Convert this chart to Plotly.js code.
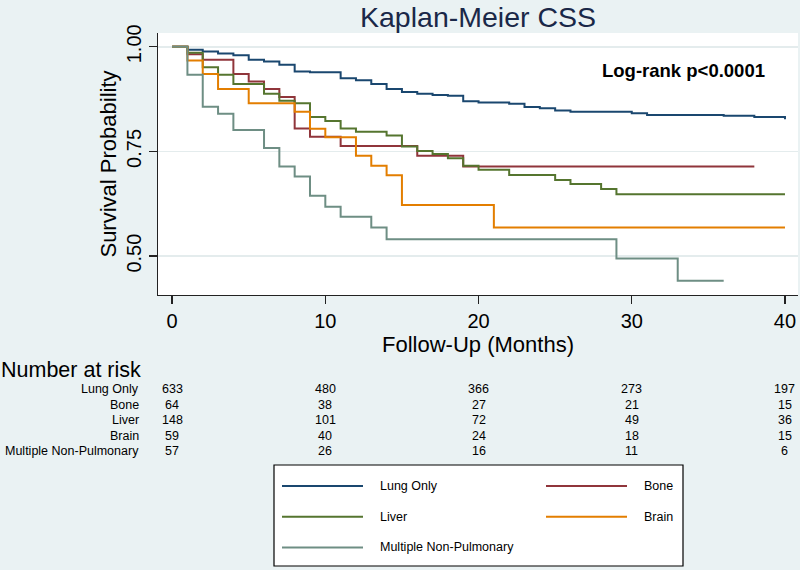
<!DOCTYPE html>
<html>
<head>
<meta charset="utf-8">
<script src="https://cdn.plot.ly/plotly-3.0.1.min.js"></script>
<style>html,body{margin:0;padding:0;background:#eaf2f3;}#chart{width:800px;height:570px;}</style>
</head>
<body>
<div id="chart"></div>
<script>
// ---- Data ----
const seriesNames = ["Lung Only", "Bone", "Liver", "Brain", "Multiple Non-Pulmonary"];
const seriesColors = ["#1a476f", "#90353b", "#55752f", "#e37e00", "#6e8e84"];

const lungT = [0,1,2,3,4,5,6,7,8,9,11,12,13,14,15,16,17,18,19,20,22,23,24,25,26,30,31,36,38,40];
const lungS = [1.0,0.993,0.989,0.984,0.980,0.969,0.965,0.957,0.941,0.939,0.925,0.920,0.911,0.899,0.892,0.888,0.885,0.883,0.870,0.867,0.864,0.856,0.853,0.848,0.845,0.841,0.837,0.835,0.832,0.827];

const boneT = [0,1,2,4,5,6,7,8,9,11,16,19,38];
const boneS = [1.0,0.982,0.969,0.935,0.917,0.899,0.880,0.805,0.785,0.763,0.740,0.714,0.714];

const liverT = [0,1,2,3,4,6,7,8,9,10,11,12,14,15,16,17,18,19,20,22,25,26,28,29,40];
const liverS = [1.0,0.986,0.951,0.933,0.911,0.888,0.871,0.865,0.832,0.823,0.805,0.797,0.788,0.762,0.751,0.744,0.734,0.716,0.706,0.694,0.682,0.672,0.660,0.648,0.648];

const brainT = [0,1,2,3,5,8,9,10,12,13,14,15,21,40];
const brainS = [1.0,0.967,0.935,0.899,0.865,0.845,0.804,0.784,0.740,0.716,0.693,0.622,0.568,0.568];

const multiT = [0,1,2,3,4,6,7,8,9,10,11,13,14,29,33,36];
const multiS = [1.0,0.933,0.857,0.840,0.801,0.758,0.714,0.690,0.644,0.618,0.594,0.568,0.540,0.494,0.441,0.441];

const xTickVals = [0,10,20,30,40];
const yTickVals = [0.50,0.75,1.00];
const yTickText = ["0.50","0.75","1.00"];

const riskTimes = [0,10,20,30,40];
const riskLung  = [633,480,366,273,197];
const riskBone  = [64,38,27,21,15];
const riskLiver = [148,101,72,49,36];
const riskBrain = [59,40,24,18,15];
const riskMulti = [57,26,16,11,6];

// ---- Build ----
const FONT = "Liberation Sans, Arial, Helvetica, sans-serif";
const seriesT = [lungT, boneT, liverT, brainT, multiT];
const seriesS = [lungS, boneS, liverS, brainS, multiS];
const riskRows = [riskLung, riskBone, riskLiver, riskBrain, riskMulti];

const traces = seriesNames.map((name, i) => ({
  type: "scatter", mode: "lines", name: name,
  x: seriesT[i], y: seriesS[i],
  line: {shape: "hv", color: seriesColors[i], width: 2},
  showlegend: false, hoverinfo: "skip"
}));

const ML = 158, MR = 2, MT = 33, MB = 275, W = 800, H = 570;
const PW = W - ML - MR, PH = H - MT - MB;
const px2x = p => (p - ML) / PW;
const py2y = p => (H - MB - p) / PH;

const annotations = [];
const shapes = [];

annotations.push({
  xref: "x", yref: "y", x: 27.95, y: 0.943, xanchor: "left", yanchor: "middle",
  text: "<b>Log-rank p&lt;0.0001</b>", showarrow: false,
  font: {family: FONT, size: 18.5, color: "#000"}
});

// Number at risk table
annotations.push({
  xref: "paper", yref: "paper", x: px2x(-1), y: py2y(370), xanchor: "left", yanchor: "middle",
  text: "Number at risk", showarrow: false, font: {family: FONT, size: 21.5, color: "#000"}
});
riskRows.forEach((row, i) => {
  const yy = py2y(389 + 15.5 * i);
  annotations.push({
    xref: "paper", yref: "paper", x: px2x(141), y: yy, xanchor: "right", yanchor: "middle",
    text: seriesNames[i], showarrow: false, font: {family: FONT, size: 12.5, color: "#000"}
  });
  row.forEach((v, j) => {
    annotations.push({
      xref: "x", yref: "paper", x: riskTimes[j], y: yy, xanchor: "center", yanchor: "middle",
      text: String(v), showarrow: false, font: {family: FONT, size: 12.5, color: "#000"}
    });
  });
});

// Legend box (Stata-style)
shapes.push({type: "rect", xref: "paper", yref: "paper",
  x0: px2x(274), x1: px2x(683), y0: py2y(566), y1: py2y(465),
  line: {color: "#000", width: 1.2}, fillcolor: "#ffffff", layer: "above"});
seriesNames.forEach((name, i) => {
  const col = i % 2, row = Math.floor(i / 2);
  const lx0 = col === 0 ? 282 : 546;
  const yy = py2y(486 + 30.7 * row);
  shapes.push({type: "line", xref: "paper", yref: "paper",
    x0: px2x(lx0), x1: px2x(lx0 + 81), y0: yy, y1: yy,
    line: {color: seriesColors[i], width: 2}, layer: "above"});
  annotations.push({xref: "paper", yref: "paper", x: px2x(lx0 + 96), y: yy,
    xanchor: "left", yanchor: "middle", text: name, showarrow: false,
    font: {family: FONT, size: 12.5, color: "#000"}});
});

const layout = {
  width: W, height: H,
  margin: {l: ML, r: MR, t: MT, b: MB, pad: 0},
  paper_bgcolor: "#eaf2f3", plot_bgcolor: "#ffffff",
  font: {family: FONT, color: "#000"},
  title: {text: "Kaplan-Meier CSS", font: {family: FONT, size: 28.5, color: "#1a2848"},
    xref: "paper", x: 0.5, xanchor: "center", yref: "container", y: 1 - 17 / H, yanchor: "middle",
    pad: {t: 0, b: 0, l: 0, r: 0}},
  xaxis: {
    range: [-0.92, 40.85], tickvals: xTickVals, ticks: "outside", ticklen: 8, tickwidth: 1.3,
    tickcolor: "#222", showline: true, linecolor: "#222", linewidth: 1.3, mirror: false,
    showgrid: false, zeroline: false, tickfont: {family: FONT, size: 20, color: "#000"},
    title: {text: "Follow-Up (Months)", font: {family: FONT, size: 22, color: "#000"}, standoff: 0},
    automargin: false, fixedrange: true
  },
  yaxis: {
    range: [0.407, 1.033], tickvals: yTickVals, ticktext: yTickText, tickangle: -90,
    ticks: "outside", ticklen: 8, tickwidth: 1.3, tickcolor: "#222",
    showline: true, linecolor: "#222", linewidth: 1.3,
    showgrid: true, gridcolor: "#e4eced", gridwidth: 1.5, zeroline: false,
    tickfont: {family: FONT, size: 20, color: "#000"},
    title: {text: "Survival Probability", font: {family: FONT, size: 22, color: "#000"}, standoff: 0},
    automargin: false, fixedrange: true
  },
  showlegend: false,
  annotations: annotations,
  shapes: shapes
};

Plotly.newPlot("chart", traces, layout, {displayModeBar: false, staticPlot: true});
</script>
</body>
</html>
